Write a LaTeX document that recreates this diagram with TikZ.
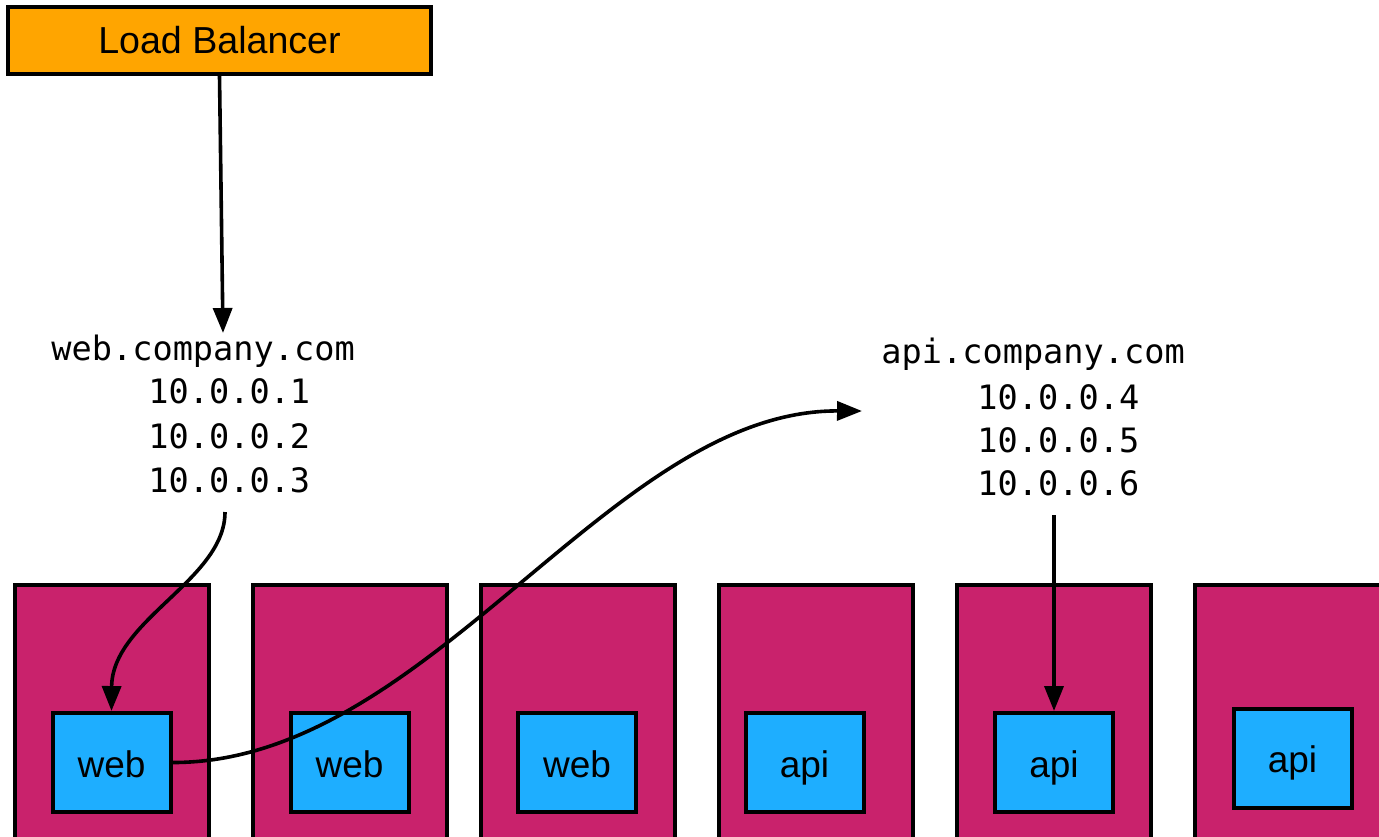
\documentclass[tikz,border=0pt]{standalone}
\usepackage{fontspec}
\setmainfont{Liberation Sans}
\newfontfamily\dnsfont{DejaVu Sans Mono}
\usetikzlibrary{arrows.meta}
\definecolor{lborange}{RGB}{255,165,0}
\definecolor{hostpink}{RGB}{201,34,108}
\definecolor{podblue}{RGB}{30,174,255}
\tikzset{
  box/.style={draw=black, line width=2pt, rectangle, inner sep=0pt},
  lbbox/.style={box, fill=lborange, minimum width=211.5pt, minimum height=33.5pt, font=\fontsize{18.8}{20}\selectfont},
  host/.style={box, fill=hostpink, minimum width=97pt, minimum height=160pt},
  pod/.style={box, fill=podblue, minimum width=59pt, minimum height=49.5pt,
    text height=14.5pt, text depth=0pt, font=\fontsize{18.5}{20}\selectfont},
  dns/.style={anchor=base west, inner sep=0pt, font=\dnsfont\fontsize{16.8}{20}\selectfont},
  link/.style={line width=1.8pt, -{Triangle[length=12.5pt,width=9.5pt]}},
}
\begin{document}
\begin{tikzpicture}[x=0.5pt, y=-0.5pt]
\useasboundingbox (0,0) rectangle (1379,836);
\clip (0,0) rectangle (1379,836);

% load balancer
\node[lbbox] (lb) at (219.5,40.5) {Load Balancer};

% hosts
\node[host] (h1) at (111.5,745) {};
\node[host] (h2) at (350,745) {};
\node[host] (h3) at (577.5,745) {};
\node[host] (h4) at (815.5,745) {};
\node[host] (h5) at (1054,745) {};
\node[host] (h6) at (1292,745) {};

% containers
\node[pod] (w1) at (111.5,762.5) {web};
\node[pod] (w2) at (349.5,762.5) {web};
\node[pod] (w3) at (577,762.5) {web};
\node[pod] (a1) at (804.5,762.5) {api};
\node[pod] (a2) at (1054,762.5) {api};
\node[pod] (a3) at (1292.5,758) {api};

% DNS records
\node[dns] (webname) at (51,360) {web.company.com};
\node[dns] (webip1) at (148,403) {10.0.0.1};
\node[dns] (webip2) at (148,448) {10.0.0.2};
\node[dns] (webip3) at (148,492) {10.0.0.3};
\node[dns] (apiname) at (881,363) {api.company.com};
\node[dns] (apiip1) at (977,409) {10.0.0.4};
\node[dns] (apiip2) at (977,452) {10.0.0.5};
\node[dns] (apiip3) at (977,495) {10.0.0.6};

\coordinate (webtop) at (223,333);
\coordinate (webbot) at (225,512);
\coordinate (apiin) at (862,411);
\coordinate (apibot) at (1054,515);

% connectors
\draw[link] (lb.south) -- (webtop);
\draw[link] (webbot) .. controls (225,580) and (112,620) .. (w1.north);
\draw[link] (w1.east) .. controls (430,763) and (610,410) .. (apiin);
\draw[link] (apibot) -- (a2.north);
\end{tikzpicture}
\end{document}
